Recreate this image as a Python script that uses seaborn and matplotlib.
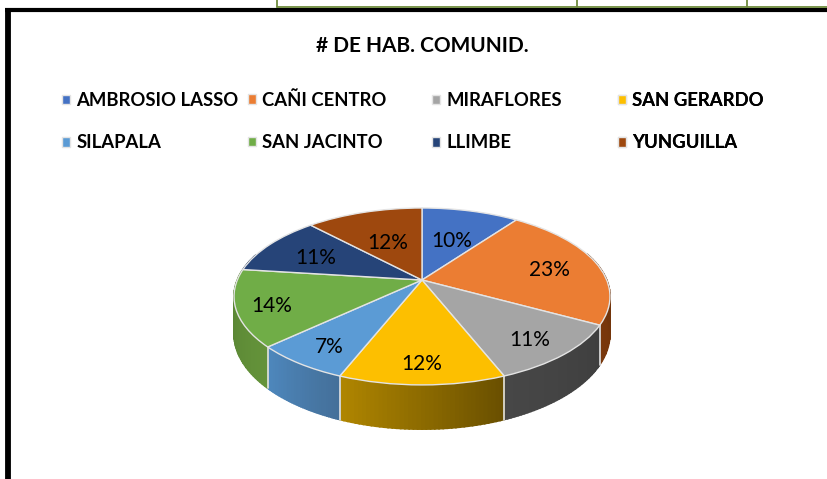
import numpy as np
import matplotlib
matplotlib.use('Agg')
import matplotlib.pyplot as plt
from matplotlib.colors import to_rgb
from matplotlib.transforms import Transform
import seaborn as sns

# data
comunidades = ['AMBROSIO LASSO', 'CAÑI CENTRO', 'MIRAFLORES', 'SAN GERARDO',
               'SILAPALA', 'SAN JACINTO', 'LLIMBE', 'YUNGUILLA']
porcentajes = [10, 23, 11, 12, 7, 14, 11, 12]
titulo = '# DE HAB. COMUNID.'

# colores
colores = ['#4472C4', '#EB7D33', '#A5A5A5', '#FDBF00',
           '#5B9BD5', '#70AD47', '#264478', '#9E480E']
# lateral de cada rebanada (inicio, fin del degradado)
lados = [('#2F5597', '#2F5597'), ('#7A380C', '#5F2C08'), ('#474747', '#3F3F3F'),
         ('#B08600', '#6A5000'), ('#4E88BE', '#44709A'), ('#557F31', '#64933A'),
         ('#1C3359', '#1C3359'), ('#6E320A', '#6E320A')]
borde = '#E4E4E4'

# geometria de la perspectiva (en pixeles)
CX, CY = 422, 280
RX, RY = 184.7, 85.4
A = 0.186
ALTO = 36


def proyectar(u, v, caida=0):
    f = 1 / (1 + A * v)
    return CX + RX * u * f, CY - RY * v * f + caida * f


class Inclinar(Transform):
    input_dims = 2
    output_dims = 2

    def transform_non_affine(self, values):
        values = np.asarray(values, dtype=float)
        x, y = proyectar(values[:, 0], values[:, 1])
        return np.column_stack([x, y])


sns.set_theme(style='white')
plt.rcParams['font.family'] = ['Lato', 'DejaVu Sans']

fig = plt.figure(figsize=(8.27, 4.79), dpi=100)
ax = fig.add_axes([0, 0, 1, 1])

wedges, _, autotexts = ax.pie(porcentajes, colors=colores, startangle=90, counterclock=False,
                              autopct='%.0f%%', pctdistance=0.7,
                              wedgeprops=dict(edgecolor=borde, linewidth=1.0),
                              textprops=dict(fontsize=15, color='black'))
ax.set_aspect('auto')
ax.set_xlim(0, 827)
ax.set_ylim(479, 0)
ax.axis('off')

inclinar = Inclinar() + ax.transData

# distancia radial de cada etiqueta
radios = [0.56, 0.72, 0.78, 0.79, 0.78, 0.81, 0.68, 0.55]
for w, t, r in zip(wedges, autotexts, radios):
    w.set_transform(inclinar)
    w.set_zorder(3)
    medio = np.deg2rad((w.theta1 + w.theta2) / 2)
    t.set_transform(inclinar)
    t.set_position((r * np.cos(medio), r * np.sin(medio) - 0.04))
    t.set_zorder(4)

# lateral del disco
for w, (c0, c1) in zip(wedges, lados):
    c0, c1 = np.array(to_rgb(c0)), np.array(to_rgb(c1))
    angulos = np.deg2rad(np.linspace(w.theta1, w.theta2, 41))
    for i in range(40):
        a, b = angulos[i], angulos[i + 1]
        if np.sin(a) > 0.3 and np.sin(b) > 0.3:
            continue
        x0, y0 = proyectar(np.cos(a), np.sin(a))
        x1, y1 = proyectar(np.cos(b), np.sin(b))
        x2, y2 = proyectar(np.cos(b), np.sin(b), ALTO)
        x3, y3 = proyectar(np.cos(a), np.sin(a), ALTO)
        color = c0 + (c1 - c0) * i / 39
        ax.fill([x0, x1, x2, x3], [y0, y1, y2, y3], color=color, lw=1.2, zorder=1)
    a = angulos[0]
    if np.sin(a) < 0:
        x0, y0 = proyectar(np.cos(a), np.sin(a))
        x1, y1 = proyectar(np.cos(a), np.sin(a), ALTO)
        ax.plot([x0, x1], [y0, y1], color=borde, lw=1.2, zorder=2)

# titulo
ax.text(422, 46, titulo, ha='center', va='center', fontsize=15, fontweight='bold', color='black')

# leyenda: una por columna para que queden equiespaciadas
for col, (x, y) in enumerate([(62, 92), (248, 91), (432, 92), (618, 92)]):
    idx = [col, col + 4]
    leg = ax.legend([wedges[i] for i in idx], [comunidades[i] for i in idx],
                    loc='upper left', bbox_to_anchor=(x, y), bbox_transform=ax.transData,
                    frameon=False, ncol=1, borderpad=0, borderaxespad=0,
                    handlelength=0.42, handleheight=0.42, handletextpad=0.35, labelspacing=1.38,
                    labelcolor='black',
                    prop=dict(size=13.3, family=['Lato', 'DejaVu Sans']))
    for t in leg.get_texts():
        t.set_fontweight('bold')
    ax.add_artist(leg)

# marco de la hoja
ax.plot([8, 8], [479, 10], color='black', lw=4.2, solid_capstyle='butt', zorder=5)
ax.plot([5, 827], [10, 10], color='black', lw=3, solid_capstyle='butt', zorder=5)
ax.plot([277, 827], [7, 7], color='#6E8B3D', lw=1.3, zorder=5)
for x in [277, 577, 747]:
    ax.plot([x, x], [0, 7], color='#6E8B3D', lw=1.3, zorder=5)

fig.savefig('out.png', dpi=100, facecolor='white')
